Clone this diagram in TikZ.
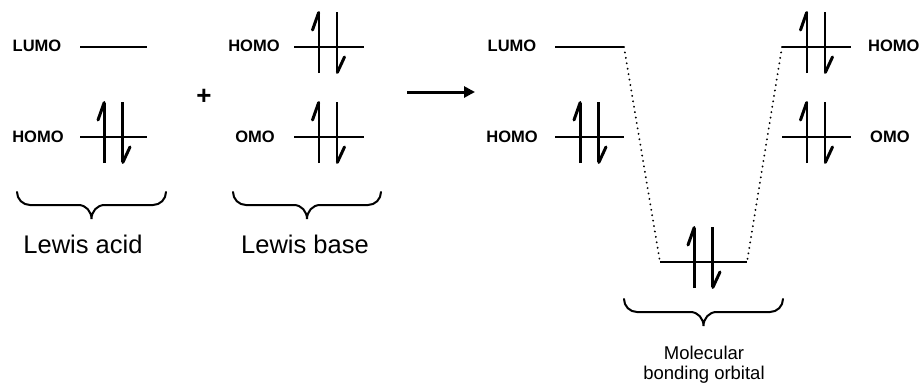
\documentclass[tikz,border=0pt]{standalone}
\usepackage{fontspec}
\setmainfont{Liberation Sans}
\usetikzlibrary{arrows.meta}
\begin{document}
\begin{tikzpicture}[x=1pt,y=-1pt,
  level/.style={line width=1.4pt},
  elec/.style={line width=2.6pt,line cap=butt,line join=round},
  hook/.style={line width=3pt,line cap=round},
  orblabel/.style={font=\fontsize{16.5}{16.5}\selectfont\bfseries,inner sep=0pt},
  grouplabel/.style={font=\fontsize{25.5}{25.5}\selectfont,inner sep=0pt},
  molabel/.style={font=\fontsize{18.5}{20}\selectfont,inner sep=0pt,align=center},
  bracestroke/.style={line width=2pt,line cap=round},
  corr/.style={line width=2pt,line cap=round,dash pattern=on 0.1pt off 5.4pt},
  pics/epair/.style={code={
    \draw[elec] (-9,26) -- (-9,-34);
    \draw[hook] (-9.3,-34.5) -- (-15.5,-17);
    \draw[elec] (9,-35) -- (9,25);
    \draw[hook] (9.3,25.5) -- (16.5,10);
  }},
  pics/cbrace/.style={code={
    \draw[bracestroke] (-#1,0) to[out=-90,in=180] (-#1+13,13) -- (-13,13)
      to[out=0,in=90] (0,27) to[out=90,in=180] (13,13) -- (#1-13,13)
      to[out=0,in=-90] (#1,0);
  }}]
\useasboundingbox (0,0) rectangle (922,389);

% ---- Lewis acid: empty LUMO, filled HOMO
\coordinate (aLa) at (80,47);  \coordinate (aLb) at (147,47);
\coordinate (aHa) at (80,137); \coordinate (aHb) at (147,137);
\draw[level] (aLa) -- (aLb);
\draw[level] (aHa) -- (aHb);
\pic at (113.5,137) {epair};
\node[orblabel] (aLt) at (37,46) {LUMO};
\node[orblabel] (aHt) at (38,137) {HOMO};

\node[font=\fontsize{26}{26}\selectfont\bfseries,inner sep=0pt] (plus) at (204,97) {+};

% ---- Lewis base: filled HOMO and OMO
\coordinate (bHa) at (294,47);  \coordinate (bHb) at (364,47);
\coordinate (bOa) at (294,137); \coordinate (bOb) at (364,137);
\draw[level] (bHa) -- (bHb);
\draw[level] (bOa) -- (bOb);
\pic at (328,47) {epair};
\pic at (328,137) {epair};
\node[orblabel] (bHt) at (254,46) {HOMO};
\node[orblabel] (bOt) at (255,137) {OMO};

% ---- group braces and names
\pic at (91.5,192) {cbrace=74.5};
\pic at (307,192) {cbrace=74};
\node[grouplabel] (acid) at (83,244) {Lewis acid};
\node[grouplabel] (base) at (305,244) {Lewis base};

% ---- reaction arrow
\coordinate (rxa) at (407,92); \coordinate (rxb) at (475,92);
\draw[line width=3pt,-{Triangle[length=11pt,width=11pt]}] (rxa) -- (rxb);

% ---- adduct: acid levels on the left
\coordinate (cLa) at (555,47);  \coordinate (cLb) at (624,47);
\coordinate (cHa) at (555,137); \coordinate (cHb) at (624,137);
\draw[level] (cLa) -- (cLb);
\draw[level] (cHa) -- (cHb);
\pic at (589.5,137) {epair};
\node[orblabel] (cLt) at (512,46) {LUMO};
\node[orblabel] (cHt) at (512,137) {HOMO};

% ---- adduct: base levels on the right
\coordinate (dHa) at (782,47);  \coordinate (dHb) at (851,47);
\coordinate (dOa) at (782,137); \coordinate (dOb) at (851,137);
\draw[level] (dHa) -- (dHb);
\draw[level] (dOa) -- (dOb);
\pic at (816,47) {epair};
\pic at (816,137) {epair};
\node[orblabel,anchor=west] (dHt) at (868,46) {HOMO};
\node[orblabel,anchor=west] (dOt) at (870,137) {OMO};

% ---- bonding orbital and correlation lines
\coordinate (mBa) at (660,262); \coordinate (mBb) at (747,262);
\draw[level] (mBa) -- (mBb);
\pic at (703.5,262) {epair};
\draw[corr] (cLb) -- (mBa);
\draw[corr] (dHa) -- (mBb);

\pic at (703.5,299) {cbrace=79.5};
\node[molabel] (mol) at (704,364.5) {Molecular\\bonding orbital};
\end{tikzpicture}
\end{document}
